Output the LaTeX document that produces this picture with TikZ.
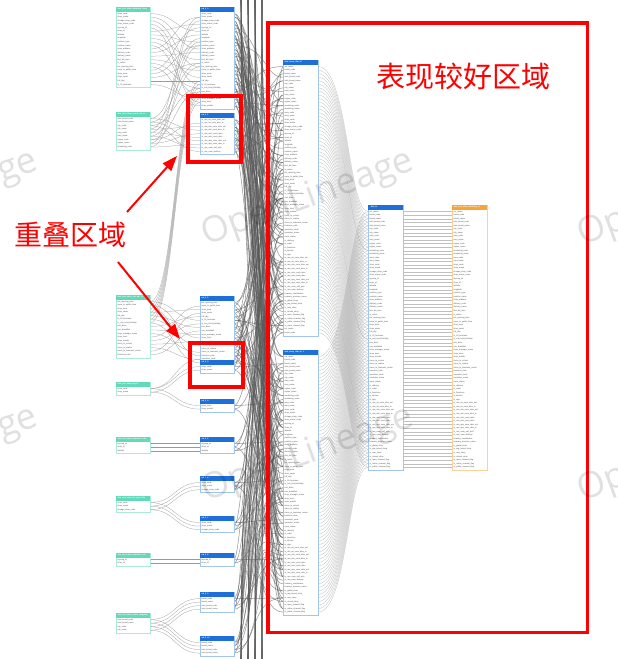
\documentclass[tikz,border=0pt]{standalone}
\usepackage{fontspec}
\setmainfont{Liberation Sans}
\newfontfamily\cjkfont{Noto Sans CJK SC}
\newfontfamily\wmfont{Open Sans}
\usetikzlibrary{arrows.meta}
\pgfdeclarelayer{bg}
\pgfdeclarelayer{fg}
\pgfsetlayers{bg,main,fg}
\definecolor{tealH}{HTML}{62D9B8}
\definecolor{tealB}{HTML}{A9EAD8}
\definecolor{blueH}{HTML}{1E70D8}
\definecolor{blueB}{HTML}{A3C6EE}
\definecolor{orH}{HTML}{F5A43A}
\definecolor{orB}{HTML}{F8D19C}

\newcommand\fldname[1]{\ifcase#1\relax
cst\_name\or brand\_code\or brand\_name\or sale\_brand\_code\or sale\_brand\_name\or
city\_code\or city\_name\or cmp\_code\or cmp\_name\or region\_code\or
region\_name\or marketing\_code\or marketing\_name\or area\_code\or area\_name\or
shop\_code\or shop\_name\or storage\_shop\_code\or shop\_owner\_code\or mycmp\_id\or
shop\_id\or latitude\or longitude\or position\_type\or position\_name\or
shop\_address\or delivery\_code\or delivery\_name\or first\_biz\_time\or is\_active\or
biz\_opening\_time\or open\_to\_public\_time\or shop\_area\or shop\_seats\or full\_day\or
is\_24\_business\or is\_can\_hold\_birthday\or can\_drive\or can\_breakfast\or shop\_manager\_name\or
shop\_level\or shop\_mobile\or close\_to\_school\or close\_to\_station\or close\_to\_business\_centre\or
business\_ratio\or operation\_code\or operation\_name\or open\_status\or is\_delivery\or
is\_robot\or is\_franchise\or is\_kitchen\or is\_sign\or is\_use\_mt\_cwm\_take\_out\or
is\_use\_mt\_cwm\_dine\_in\or is\_use\_elm\_cwm\_take\_out\or is\_use\_elm\_cwm\_dine\_in\or is\_use\_mini\_cwm\_take\or is\_use\_mini\_cwm\_dine\or
is\_use\_app\_cwm\_take\_out\or is\_use\_app\_cwm\_dine\_in\or is\_use\_cwm\_self\_pick\or is\_use\_cwm\_delivery\or treasury\_coordinates\or
treasury\_province\_name\or is\_global\_shop\or is\_pay\_brand\_shop\or is\_new\_shop\or is\_closed\_shop\or
is\_open\_channel\_flag\or is\_online\_channel\_flag\or is\_public\_channel\_flag\or is\_union\_channel\_flag\else field\fi}

\tikzset{
 tblbox/.style={draw=#1B, fill=white, line width=0.5pt, rectangle, inner sep=0pt, outer sep=0pt},
 tblhead/.style={fill=#1H, rectangle, inner sep=0pt, outer sep=0pt, minimum height=4.5pt},
 hdrtxt/.style={anchor=west, inner sep=0pt, text=white, font=\fontsize{2}{2.2}\selectfont\bfseries},
 fld/.style={anchor=west, inner sep=0pt, text=black!70, font=\fontsize{2}{2.2}\selectfont},
 lnk/.style={draw=black!40, line width=0.25pt},
 bnd/.style={draw=black!65, line width=0.55pt, opacity=0.6},
 fan/.style={draw=black!32, line width=0.2pt},
 flat/.style={draw=black!25, line width=0.25pt},
 redline/.style={draw=red, line width=4pt},
 redarrow/.style={draw=red, line width=2pt, -{Triangle[length=15pt,width=11pt]}},
 bigtxt/.style={text=red, inner sep=0pt},
 wm/.style={text=black, opacity=0.12, font=\wmfont\fontsize{36}{36}\selectfont, inner sep=0pt, rotate=20},
}

% #1 name, #2 x, #3 y top, #4 rows, #5 colour, #6 title, #7 width, #8 name offset
\newcommand\mktable[8]{%
  \pgfmathsetmacro\tblh{6+#4*3.55}%
  \node[tblbox=#5, minimum width=#7pt, minimum height=\tblh pt, anchor=north west] (#1) at (#2,#3) {};
  \node[tblhead=#5, minimum width=#7pt, anchor=north west] (#1h) at (#2,#3) {};
  \node[hdrtxt] (#1ht) at (#2+1.5,#3+2.25) {#6};
  \foreach \i in {1,...,#4}{%
    \pgfmathsetmacro\yy{#3+4.8+(\i-0.5)*3.55}%
    \pgfmathtruncatemacro\k{mod(\i-1+#8,74)}%
    \coordinate (#1l\i) at (#2,\yy);
    \coordinate (#1r\i) at (#2+#7,\yy);
    \node[fld] (#1t\i) at (#2+1.5,\yy) {\fldname{\k}};
  }%
}

% bundle from a left blue table to the two big tables
\newcommand\mkbundle[3]{%
  \foreach \i in {1,...,#2}{%
    \pgfmathtruncatemacro\ja{mod(\i*29+#3*17,76)+1}%
    \pgfmathtruncatemacro\jb{mod(\i*31+#3*11,73)+1}%
    \pgfmathsetmacro\da{10+mod(\i*7+#3*5,26)}%
    \pgfmathsetmacro\db{10+mod(\i*11+#3*3,26)}%
    \draw[bnd] (#1r\i) .. controls ([xshift=\da]#1r\i) and ([xshift=-\db]BAl\ja) .. (BAl\ja);
    \draw[bnd] (#1r\i) .. controls ([xshift=\db]#1r\i) and ([xshift=-\da]BBl\jb) .. (BBl\jb);
  }%
}

\begin{document}
\begin{tikzpicture}[x=1pt,y=-1pt]
\begin{pgfonlayer}{bg}
\fill[white] (0,0) rectangle (618,659);
\end{pgfonlayer}
\useasboundingbox (0,0) rectangle (618,659);

% left source tables (teal)
\mktable{LTa}{116}{7}{21}{teal}{dws\_prd\_shop\_detailing\_store}{34}{15}
\mktable{LTb}{116}{112}{9}{teal}{dim\_prd\_shop\_brand\_attr\_hi}{34}{3}
\mktable{LTc}{116}{295}{16}{teal}{dws\_prd\_shop\_ext\_attr\_hi}{34}{30}
\mktable{LTd}{116}{382}{2}{teal}{dim\_prd\_shop\_tag\_hi}{34}{15}
\mktable{LTe}{116}{437}{3}{teal}{dim\_prd\_shop\_signature\_info}{34}{19}
\mktable{LTf}{116}{496}{3}{teal}{dim\_prd\_shop\_biz\_type\_info}{34}{15}
\mktable{LTg}{116}{553}{2}{teal}{dim\_prd\_shop\_signature\_ext}{34}{19}
\mktable{LTh}{116}{613}{4}{teal}{dim\_prd\_shop\_brand\_mapping}{34}{3}

% left intermediate tables (blue)
\mktable{LBa}{200}{7}{27}{blue}{ad\_li\_0}{34}{15}
\mktable{LBb}{200}{113}{10}{blue}{ad\_li\_1}{34}{54}
\mktable{LBc}{200}{296}{18}{blue}{ad\_li\_2}{34}{30}
\mktable{LBd}{200}{360}{2}{blue}{ad\_li\_3}{34}{15}
\mktable{LBe}{200}{399}{2}{blue}{ad\_li\_4}{34}{40}
\mktable{LBf}{200}{437}{3}{blue}{ad\_li\_5}{34}{19}
\mktable{LBg}{200}{476}{3}{blue}{ad\_li\_6}{34}{15}
\mktable{LBh}{200}{516}{3}{blue}{ad\_li\_7}{34}{15}
\mktable{LBi}{200}{553}{2}{blue}{ad\_li\_8}{34}{19}
\mktable{LBj}{200}{592}{4}{blue}{ad\_li\_9}{34}{1}
\mktable{LBk}{200}{636}{4}{blue}{ad\_li\_10}{34}{1}

% big tables
\mktable{BA}{283}{60}{76}{blue}{mid\_shop\_dim\_hi}{35}{0}
\mktable{BB}{283}{350}{73}{blue}{mid\_shop\_dim\_hi\_1}{35}{0}
\mktable{BC}{368}{205}{73}{blue}{\_dim\_hi}{35}{0}
\mktable{OR}{452}{205}{73}{or}{dws\_prd\_shop\_detailing\_hi}{35}{0}

\begin{pgfonlayer}{bg}
% teal -> blue on the left
\foreach \i in {1,...,21}{\pgfmathtruncatemacro\j{mod(\i*5,27)+1}
  \draw[lnk] (LTar\i) .. controls +(25,0) and +(-25,0) .. (LBal\j);}
\foreach \i in {1,...,9}{\pgfmathtruncatemacro\j{mod(\i*3,10)+1}
  \draw[lnk] (LTbr\i) .. controls +(25,0) and +(-25,0) .. (LBbl\j);
  \pgfmathtruncatemacro\j{mod(\i*7,27)+1}
  \draw[lnk] (LTbr\i) .. controls +(25,0) and +(-25,0) .. (LBal\j);}
\foreach \i in {1,...,16}{\pgfmathtruncatemacro\j{mod(\i*5,18)+1}
  \draw[lnk] (LTcr\i) .. controls +(25,0) and +(-25,0) .. (LBcl\j);}
\foreach \i in {1,...,7}{\pgfmathtruncatemacro\j{19+\i}
  \draw[lnk] (LTcr\i) .. controls +(25,0) and +(-25,0) .. (LBal\j);}
\foreach \i in {1,2}{
  \draw[lnk] (LTdr\i) .. controls +(25,0) and +(-25,0) .. (LBdl\i);
  \draw[lnk] (LTdr\i) .. controls +(25,0) and +(-25,0) .. (LBel\i);
  \draw[lnk] (LTgr\i) -- (LBil\i);}
\draw[lnk] (LTdr1) .. controls +(25,0) and +(-25,0) .. (LBcl17);
\foreach \i in {1,2,3}{
  \draw[lnk] (LTer\i) -- (LBfl\i);
  \draw[lnk] (LTfr\i) .. controls +(25,0) and +(-25,0) .. (LBgl\i);
  \draw[lnk] (LTfr\i) .. controls +(25,0) and +(-25,0) .. (LBhl\i);}
\foreach \i in {1,...,4}{
  \draw[lnk] (LThr\i) .. controls +(25,0) and +(-25,0) .. (LBjl\i);
  \draw[lnk] (LThr\i) .. controls +(25,0) and +(-25,0) .. (LBkl\i);}

% dense bundle to the two big tables
\mkbundle{LBa}{27}{1}
\mkbundle{LBb}{10}{2}
\mkbundle{LBc}{18}{3}
\mkbundle{LBd}{2}{4}
\mkbundle{LBe}{2}{5}
\mkbundle{LBf}{3}{6}
\mkbundle{LBg}{3}{7}
\mkbundle{LBh}{3}{8}
\mkbundle{LBi}{2}{9}
\mkbundle{LBj}{4}{10}
\mkbundle{LBk}{4}{11}
% lines arriving from tables above and below the visible part
\foreach \i in {1,...,30}{
  \pgfmathsetmacro\xx{241+mod(\i*7,28)}
  \pgfmathtruncatemacro\ja{mod(\i*23,76)+1}
  \pgfmathtruncatemacro\jb{mod(\i*19,73)+1}
  \pgfmathsetmacro\db{10+mod(\i*5,24)}
  \coordinate (tp\i) at (\xx,-4);
  \coordinate (bt\i) at (\xx,663);
  \draw[bnd] (tp\i) .. controls ([yshift=-150]tp\i) and ([xshift=-\db]BAl\ja) .. (BAl\ja);
  \draw[bnd] (bt\i) .. controls ([yshift=150]bt\i) and ([xshift=-\db]BBl\jb) .. (BBl\jb);}
\foreach \i in {1,...,12}{
  \pgfmathtruncatemacro\ja{mod(\i*37,76)+1}
  \pgfmathtruncatemacro\jb{mod(\i*41,73)+1}
  \draw[bnd] (tp\i) .. controls ([yshift=-300]tp\i) and ([xshift=-18]BBl\jb) .. (BBl\jb);
  \draw[bnd] (bt\i) .. controls ([yshift=300]bt\i) and ([xshift=-18]BAl\ja) .. (BAl\ja);}

% fan into the merged table
\foreach \i in {1,...,76}{\pgfmathtruncatemacro\j{min(73,max(1,round(\i*73/76)))}
  \draw[fan] (BAr\i) .. controls +(30,0) and +(-20,0) .. (BCl\j);}
\foreach \i in {1,...,73}{
  \draw[fan] (BBr\i) .. controls +(30,0) and +(-20,0) .. (BCl\i);
  \draw[flat] (BCr\i) -- (ORl\i);}
\end{pgfonlayer}

% annotations
\draw[redline] (188,96) rectangle (241,162);
\draw[redline] (190,343) rectangle (243,387);
\draw[red, line width=3.6pt] (268,23) rectangle (587.5,632.5);
\node[bigtxt, font=\cjkfont\fontsize{29}{29}\selectfont] (good) at (463,76) {表现较好区域};
\node[bigtxt, font=\cjkfont\fontsize{28}{28}\selectfont] (overlap) at (71,235) {重叠区域};
\coordinate (a1s) at (127,212);
\coordinate (a1e) at (177,156);
\coordinate (a2s) at (118,262);
\coordinate (a2e) at (180,339);
\draw[redarrow] (a1s) -- (a1e);
\draw[redarrow] (a2s) -- (a2e);

% watermark
\begin{pgfonlayer}{fg}
\node[wm] (wm1) at (308,199) {OpenLineage};
\node[wm] (wm2) at (308,455) {OpenLineage};
\node[wm] (wm3) at (-68,199) {OpenLineage};
\node[wm] (wm4) at (-68,455) {OpenLineage};
\node[wm] (wm5) at (684,199) {OpenLineage};
\node[wm] (wm6) at (684,455) {OpenLineage};
\end{pgfonlayer}
\end{tikzpicture}
\end{document}
